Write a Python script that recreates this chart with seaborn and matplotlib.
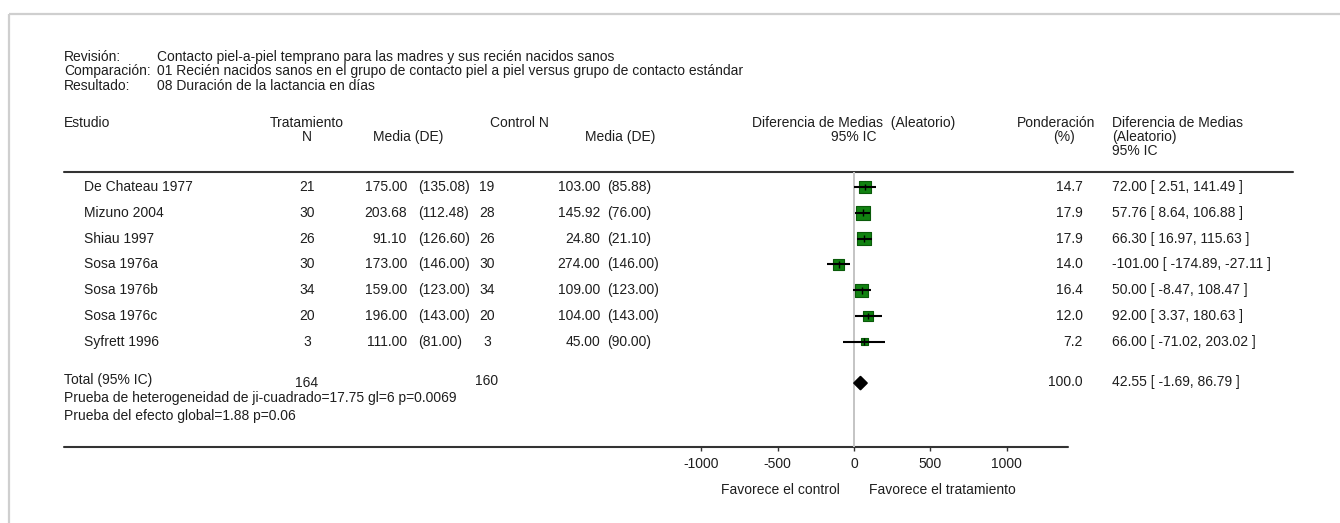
import matplotlib
matplotlib.use("Agg")
import matplotlib.pyplot as plt
import seaborn as sns
import pandas as pd
import numpy as np

# ---------------- data ----------------
studies = ["De Chateau 1977", "Mizuno 2004", "Shiau 1997", "Sosa 1976a",
           "Sosa 1976b", "Sosa 1976c", "Syfrett 1996"]
trt_n = [21, 30, 26, 30, 34, 20, 3]
trt_mean = [175.00, 203.68, 91.10, 173.00, 159.00, 196.00, 111.00]
trt_sd = [135.08, 112.48, 126.60, 146.00, 123.00, 143.00, 81.00]
ctl_n = [19, 28, 26, 30, 34, 20, 3]
ctl_mean = [103.00, 145.92, 24.80, 274.00, 109.00, 104.00, 45.00]
ctl_sd = [85.88, 76.00, 21.10, 146.00, 123.00, 143.00, 90.00]
weight = [14.7, 17.9, 17.9, 14.0, 16.4, 12.0, 7.2]
md = [72.00, 57.76, 66.30, -101.00, 50.00, 92.00, 66.00]
ci_lo = [2.51, 8.64, 16.97, -174.89, -8.47, 3.37, -71.02]
ci_hi = [141.49, 106.88, 115.63, -27.11, 108.47, 180.63, 203.02]
total_trt_n = 164
total_ctl_n = 160
total_weight = 100.0
total_md = 42.55
total_lo = -1.69
total_hi = 86.79
x_ticks = [-1000, -500, 0, 500, 1000]

header_lines = [("Revisión:", "Contacto piel-a-piel temprano para las madres y sus recién nacidos sanos"),
                ("Comparación:", "01 Recién nacidos sanos en el grupo de contacto piel a piel versus grupo de contacto estándar"),
                ("Resultado:", "08 Duración de la lactancia en días")]
het_text = "Prueba de heterogeneidad de ji-cuadrado=17.75 gl=6 p=0.0069"
overall_text = "Prueba del efecto global=1.88 p=0.06"
fav_left = "Favorece el control"
fav_right = "Favorece el tratamiento"

# ---------------- style ----------------
sns.set_theme(style="white")
plt.rcParams["font.family"] = ["Liberation Sans", "DejaVu Sans"]
FS = 10
TC = "#1e1e1e"

W, H = 1340, 523
fig = plt.figure(figsize=(W / 100, H / 100), dpi=100)
fig.patch.set_facecolor("white")

# background axes in pixel space for the table layout
bg = fig.add_axes([0, 0, 1, 1])
bg.set_xlim(0, W)
bg.set_ylim(H, 0)
bg.axis("off")

# frame (top and left)
bg.plot([9, W], [14, 14], color="#cfcfcf", lw=1.6, solid_capstyle="butt")
bg.plot([9, 9], [14, H], color="#cfcfcf", lw=1.6, solid_capstyle="butt")

def t(x, y, s, ha="left", **kw):
    bg.text(x, y, s, ha=ha, va="center", fontsize=FS, color=TC, **kw)

for i, (lab, val) in enumerate(header_lines):
    y = 57 + 14.5 * i
    t(64, y, lab)
    t(157, y, val)

# column headers
hy1, hy2, hy3 = 123, 137, 151
t(64, hy1, "Estudio")
t(270, hy1, "Tratamiento")
t(307, hy2, "N", ha="center")
t(408, hy2, "Media (DE)", ha="center")
t(490, hy1, "Control N")
t(620, hy2, "Media (DE)", ha="center")
t(854, hy1, "Diferencia de Medias  (Aleatorio)", ha="center")
t(854, hy2, "95% IC", ha="center")
t(1056, hy1, "Ponderación", ha="center")
t(1064, hy2, "(%)", ha="center")
t(1112, hy1, "Diferencia de Medias")
t(1112, hy2, "(Aleatorio)")
t(1112, hy3, "95% IC")

# table lines
bg.plot([64, 1293], [172, 172], color="#333333", lw=1.5)
bg.plot([64, 1068], [447, 447], color="#333333", lw=1.5)

row_y0, row_dy = 187, 25.8
for i, name in enumerate(studies):
    y = row_y0 + row_dy * i
    t(84, y, name)
    t(307, y, f"{trt_n[i]}", ha="center")
    t(407, y, f"{trt_mean[i]:.2f}", ha="right")
    t(418, y, f"({trt_sd[i]:.2f})")
    t(487, y, f"{ctl_n[i]}", ha="center")
    t(600, y, f"{ctl_mean[i]:.2f}", ha="right")
    t(607, y, f"({ctl_sd[i]:.2f})")
    t(1083, y, f"{weight[i]:.1f}", ha="right")
    t(1112, y, f"{md[i]:.2f} [ {ci_lo[i]:.2f}, {ci_hi[i]:.2f} ]")

ty = 380
t(64, ty, "Total (95% IC)")
t(307, ty + 3, f"{total_trt_n}", ha="center")
t(487, ty + 1, f"{total_ctl_n}", ha="center")
t(1083, ty + 2, f"{total_weight:.1f}", ha="right")
t(1112, ty + 2, f"{total_md:.2f} [ {total_lo:.2f}, {total_hi:.2f} ]")
t(64, 398, het_text)
t(64, 416, overall_text)
t(780, 490, fav_left, ha="center")
t(942, 490, fav_right, ha="center")

# ---------------- forest axes ----------------
px_per_unit = 76.3 / 500.0
ax_l_px, ax_r_px = 690, 1020
zero_px = 854
ax_top_px, ax_bot_px = 172, 447
ax = fig.add_axes([ax_l_px / W, 1 - ax_bot_px / H,
                   (ax_r_px - ax_l_px) / W, (ax_bot_px - ax_top_px) / H])
ax.set_facecolor("none")
ax.set_xlim((ax_l_px - zero_px) / px_per_unit, (ax_r_px - zero_px) / px_per_unit)
n = len(studies)
ax.set_ylim((ax_bot_px - row_y0) / row_dy, (ax_top_px - row_y0) / row_dy)

df = pd.DataFrame({"study": studies, "md": md, "lo": ci_lo, "hi": ci_hi,
                   "w": weight, "pos": np.arange(n)})

ax.axvline(0, color="#c4c4c4", lw=1.4, zorder=0)
sns.scatterplot(data=df, x="md", y="pos", size="w", sizes=(26, 95),
                size_norm=(7.2, 17.9), marker="s", color="#118211",
                edgecolor="#0a5a0a", linewidth=0.8, legend=False, ax=ax, zorder=2)
ax.hlines(df["pos"], df["lo"], df["hi"], color="black", lw=1.5, zorder=3)
ax.vlines(df["md"], df["pos"] - 0.13, df["pos"] + 0.13, color="black", lw=1.0, zorder=4)

tpos = n + 0.6
dh = 0.26
ax.fill([total_lo, total_md, total_hi, total_md],
        [tpos, tpos - dh, tpos, tpos + dh], color="black", zorder=3)

for s in ax.spines.values():
    s.set_visible(False)
ax.set_yticks([])
ax.set_xticks(x_ticks)
ax.set_xticklabels([str(v) for v in x_ticks])
ax.tick_params(axis="x", bottom=True, direction="out", length=3, width=1.0,
               color="#333333", labelsize=FS, labelcolor=TC, pad=4)
ax.set_xlabel("")
ax.set_ylabel("")

fig.savefig("out.png", dpi=100, facecolor="white")
